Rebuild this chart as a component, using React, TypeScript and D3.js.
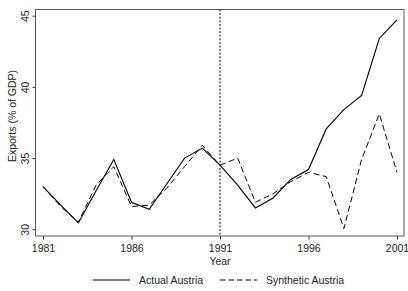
import { useEffect, useRef } from "react";
import * as d3 from "d3";

// Years on the x axis
const years = [1981, 1982, 1983, 1984, 1985, 1986, 1987, 1988, 1989, 1990, 1991,
  1992, 1993, 1994, 1995, 1996, 1997, 1998, 1999, 2000, 2001];

// Exports (% of GDP)
const actualAustria = [33.0, 31.7, 30.45, 32.7, 34.9, 31.9, 31.4, 33.2, 35.0, 35.7, 34.5,
  33.1, 31.5, 32.2, 33.5, 34.2, 37.05, 38.4, 39.4, 43.4, 44.7];
const syntheticAustria = [33.0, 31.6, 30.5, 33.1, 34.4, 31.6, 31.7, 32.9, 34.4, 35.9, 34.5,
  35.0, 31.9, 32.5, 33.35, 34.0, 33.7, 30.05, 34.9, 38.1, 34.0];

const xTicks = [1981, 1986, 1991, 1996, 2001];
const yTicks = [30, 35, 40, 45];
const treatmentYear = 1991;

const seriesNames = ["Actual Austria", "Synthetic Austria"];

const W = 408;
const H = 291;
const FONT = "'Liberation Sans', Arial, sans-serif";

export default function App() {
  const ref = useRef<SVGSVGElement | null>(null);

  useEffect(() => {
    if (!ref.current) return;
    const svg = d3.select(ref.current);
    svg.selectAll("*").remove();

    // plot region box
    const box = { left: 35.5, right: 404, top: 9.5, bottom: 236 };

    const x = d3.scaleLinear().domain([1981, 2001]).range([43, 397]);
    const y = d3.scaleLinear().domain([30, 45]).range([229.3, 15.7]);

    svg.append("rect")
      .attr("width", W)
      .attr("height", H)
      .attr("fill", "#fff");

    svg.append("rect")
      .attr("x", box.left)
      .attr("y", box.top)
      .attr("width", box.right - box.left)
      .attr("height", box.bottom - box.top)
      .attr("fill", "none")
      .attr("stroke", "#5a5a5a")
      .attr("stroke-width", 1);

    // y axis
    const yAxis = svg.append("g")
      .attr("transform", `translate(${box.left},0)`)
      .call(d3.axisLeft(y).tickValues(yTicks).tickSize(3).tickSizeOuter(0).tickPadding(0));
    yAxis.select(".domain").remove();
    yAxis.selectAll(".tick line").attr("stroke", "#333");
    yAxis.selectAll<SVGTextElement, number>(".tick text")
      .attr("x", null)
      .attr("dy", null)
      .attr("transform", "translate(-7,0) rotate(-90)")
      .attr("text-anchor", "middle")
      .attr("dominant-baseline", "auto")
      .style("font-family", FONT)
      .style("font-size", "10.5px")
      .attr("fill", "#222");

    // x axis
    const xAxis = svg.append("g")
      .attr("transform", `translate(0,${box.bottom})`)
      .call(d3.axisBottom(x).tickValues(xTicks).tickFormat(d3.format("d")).tickSize(3.5).tickSizeOuter(0).tickPadding(5.5));
    xAxis.select(".domain").remove();
    xAxis.selectAll(".tick line").attr("stroke", "#333");
    xAxis.selectAll(".tick text")
      .style("font-family", FONT)
      .style("font-size", "10.5px")
      .attr("fill", "#222");

    // axis titles
    svg.append("text")
      .attr("transform", `translate(15.5,116) rotate(-90)`)
      .attr("text-anchor", "middle")
      .style("font-family", FONT)
      .style("font-size", "10.5px")
      .attr("fill", "#222")
      .text("Exports (% of GDP)");

    svg.append("text")
      .attr("x", x(treatmentYear))
      .attr("y", 265)
      .attr("text-anchor", "middle")
      .style("font-family", FONT)
      .style("font-size", "10.5px")
      .attr("fill", "#222")
      .text("Year");

    // treatment line
    svg.append("line")
      .attr("x1", x(treatmentYear))
      .attr("x2", x(treatmentYear))
      .attr("y1", box.top)
      .attr("y2", box.bottom)
      .attr("stroke", "#000")
      .attr("stroke-width", 1)
      .attr("stroke-dasharray", "2,1.6");

    const line = d3.line<number>()
      .x((_, i) => x(years[i]))
      .y((d) => y(d));

    svg.append("path")
      .datum(actualAustria)
      .attr("d", line)
      .attr("fill", "none")
      .attr("stroke", "#000")
      .attr("stroke-width", 1.1);

    svg.append("path")
      .datum(syntheticAustria)
      .attr("d", line)
      .attr("fill", "none")
      .attr("stroke", "#000")
      .attr("stroke-width", 1)
      .attr("stroke-dasharray", "6,3.5");

    // legend
    const legend = [
      { name: seriesNames[0], x0: 93, dash: null as string | null },
      { name: seriesNames[1], x0: 220, dash: "5.5,3" },
    ];
    legend.forEach((l) => {
      svg.append("line")
        .attr("x1", l.x0)
        .attr("x2", l.x0 + 37)
        .attr("y1", 280)
        .attr("y2", 280)
        .attr("stroke", "#000")
        .attr("stroke-width", 1.1)
        .attr("stroke-dasharray", l.dash);
      svg.append("text")
        .attr("x", l.x0 + 46)
        .attr("y", 280)
        .attr("dy", "0.35em")
        .style("font-family", FONT)
        .style("font-size", "10.5px")
        .attr("fill", "#222")
        .text(l.name);
    });
  }, []);

  return (
    <div style={{ position: "absolute", left: 0, top: 0 }}>
      <svg ref={ref} width={W} height={H} style={{ display: "block" }} />
    </div>
  );
}
